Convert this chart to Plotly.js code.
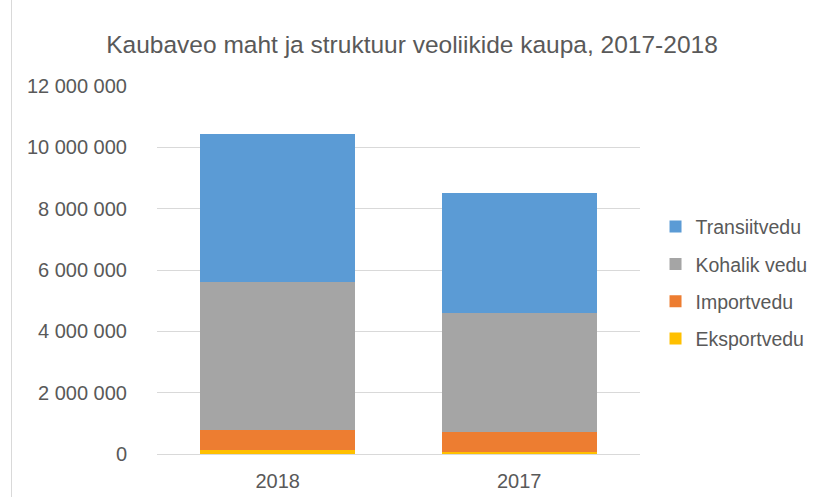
<!DOCTYPE html>
<html><head><meta charset="utf-8">
<script src="https://cdn.plot.ly/plotly-3.0.1.min.js"></script>
<style>
html,body{margin:0;padding:0;background:#fff;}
#frame{position:absolute;left:11px;top:-2px;width:840px;height:520px;border:1px solid #d9d9d9;box-sizing:border-box;}
#chart{position:absolute;left:0;top:0;width:824px;height:497px;}
</style></head>
<body>
<div id="frame"></div>
<div id="chart"></div>
<script>
const years = ['2018', '2017'];
const eksportvedu = [117000, 65000];
const importvedu = [673000, 650000];
const kohalikVedu = [4820000, 3895000];
const transiitvedu = [4820000, 3890000];
const seriesNames = ['Eksportvedu', 'Importvedu', 'Kohalik vedu', 'Transiitvedu'];
const seriesColors = ['#FFC000', '#ED7D31', '#A5A5A5', '#5B9BD5'];
const tickVals = [0, 2000000, 4000000, 6000000, 8000000, 10000000, 12000000];

const seriesValues = [eksportvedu, importvedu, kohalikVedu, transiitvedu];
const traces = seriesValues.map((v, i) => ({
  type: 'bar', x: years, y: v, name: seriesNames[i], legendgroup: 'g' + i,
  legendrank: 10 - i,
  marker: {color: seriesColors[i]}, hoverinfo: 'skip'
}));

const layout = {
  width: 824, height: 497,
  margin: {l: 157, r: 183, t: 86, b: 43},
  paper_bgcolor: 'rgba(0,0,0,0)', plot_bgcolor: 'rgba(0,0,0,0)',
  barmode: 'stack', bargap: 0.36,
  separators: ', ',
  font: {family: 'Liberation Sans, Arial, sans-serif', color: '#595959', size: 19},
  title: {text: 'Kaubaveo maht ja struktuur veoliikide kaupa, 2017-2018',
          font: {size: 24.5, color: '#595959'}, x: 0.5, xanchor: 'center', y: 0.91, yanchor: 'middle'},
  xaxis: {type: 'category', showgrid: false, zeroline: false, showline: false,
          ticks: '', ticklabelstandoff: 13, tickfont: {size: 20, color: '#595959'}},
  yaxis: {range: [0, 12000000], tickvals: tickVals, tickformat: ',d',
          showgrid: true, gridcolor: '#d9d9d9', gridwidth: 1, zeroline: true,
          zerolinecolor: '#d9d9d9', zerolinewidth: 1, showline: false, ticks: '',
          ticklabelstandoff: 29, tickfont: {size: 20, color: '#595959'}},
  legend: {x: 1.03, xanchor: 'left', y: 0.465, yanchor: 'middle', traceorder: 'grouped',
           font: {size: 19.5, color: '#595959'}, tracegroupgap: 9, itemwidth: 30},
  showlegend: true
};
Plotly.newPlot('chart', traces, layout, {staticPlot: true});
</script>
</body></html>
